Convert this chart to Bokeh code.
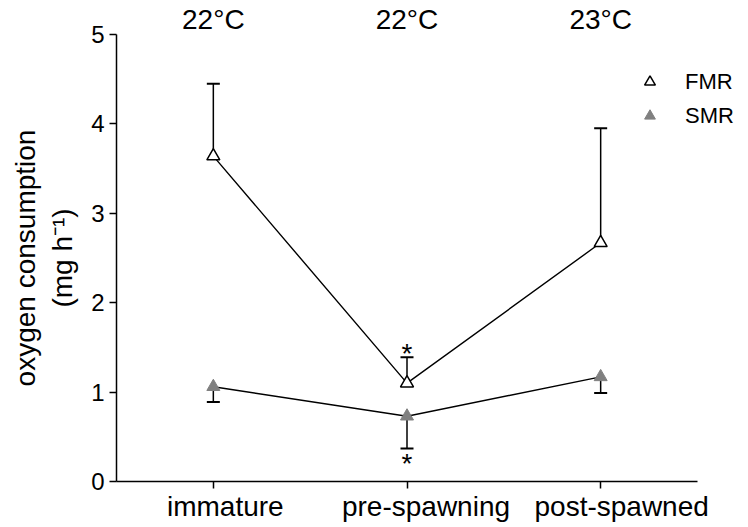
from bokeh.core.properties import value
from bokeh.embed import file_html
from bokeh.models import (ColumnDataSource, FixedTicker, Legend, LegendItem,
                          LinearAxis, Range1d, TeeHead, Whisker)
from bokeh.plotting import figure
from bokeh.resources import INLINE

# --- data -------------------------------------------------------------
stages = ["immature", "pre-spawning", "post-spawned"]
temperatures = ["22°C", "22°C", "23°C"]
fmr_mean = [3.64, 1.10, 2.67]      # field metabolic rate, mean
fmr_upper = [4.45, 1.39, 3.95]     # mean + error
smr_mean = [1.06, 0.73, 1.17]      # standard metabolic rate, mean
smr_lower = [0.89, 0.37, 0.99]     # mean - error
y_ticks = [0, 1, 2, 3, 4, 5]

# --- layout -------------------------------------------------------------
W, H = 748, 527
LEFT, TOP, BOTTOM = 116, 34, 46
AXIS_W = 581                        # drawn length of the category axis
X_AXIS = (-0.5, 2.5)
PX_PER_X = AXIS_W / (X_AXIS[1] - X_AXIS[0])
# the frame runs on to the right edge so the legend has room
X_RANGE = (X_AXIS[0], X_AXIS[1] + (W - LEFT - AXIS_W) / PX_PER_X)
Y_RANGE = (0, 5)
NAME_SHIFT_PX = [12, 19, 21]        # category names sit a little right of their ticks
FONT = "Liberation Sans"

xs = list(range(len(stages)))
src = ColumnDataSource(dict(x=xs, fmr=fmr_mean, fmr_hi=fmr_upper,
                            smr=smr_mean, smr_lo=smr_lower))

p = figure(width=W, height=H, output_backend="svg", toolbar_location=None,
           title=None,
           x_range=Range1d(*X_RANGE), y_range=Range1d(*Y_RANGE),
           min_border_left=LEFT, min_border_right=0,
           min_border_top=TOP, min_border_bottom=BOTTOM)
p.outline_line_color = None
p.grid.visible = False
p.background_fill_color = "white"
p.border_fill_color = "white"

# axes
for ax in (p.xaxis[0], p.yaxis[0]):
    ax.axis_line_width = 1.5
    ax.axis_line_color = "black"
    ax.major_tick_line_width = 1.5
    ax.major_tick_line_color = "black"
    ax.major_tick_in = 0
    ax.major_tick_out = 7
    ax.minor_tick_line_color = None
    ax.major_label_text_font = FONT
    ax.major_label_text_color = "black"

p.yaxis.ticker = FixedTicker(ticks=y_ticks)
p.yaxis.major_label_text_font_size = "24px"
p.yaxis.major_label_standoff = 5
p.yaxis.axis_label = "oxygen consumption\n(mg h⁻¹)"
p.yaxis.axis_label_text_font = FONT
p.yaxis.axis_label_text_font_size = "28px"
p.yaxis.axis_label_text_font_style = "normal"
p.yaxis.axis_label_text_color = "black"
p.yaxis.axis_label_standoff = 10

# category axis: line and ticks
p.xaxis.bounds = X_AXIS
p.xaxis.ticker = FixedTicker(ticks=xs)
p.xaxis.major_label_overrides = {i: "" for i in xs}
p.xaxis.major_label_text_font_size = "1px"
p.xaxis.major_label_standoff = 0

# category names, on a label-only axis beneath
name_ticks = [i + s / PX_PER_X for i, s in zip(xs, NAME_SHIFT_PX)]
name_axis = LinearAxis(ticker=FixedTicker(ticks=name_ticks),
                       major_label_overrides={t: s for t, s in zip(name_ticks, stages)},
                       axis_line_color=None, major_tick_line_color=None,
                       minor_tick_line_color=None, major_tick_out=0,
                       major_tick_in=0, major_label_standoff=2,
                       major_label_text_font=FONT,
                       major_label_text_font_size="28px",
                       major_label_text_color="black")
p.add_layout(name_axis, "below")

# water temperature of each stage, along the top
temp_axis = LinearAxis(ticker=FixedTicker(ticks=xs),
                       major_label_overrides={i: t for i, t in zip(xs, temperatures)},
                       axis_line_color=None, major_tick_line_color=None,
                       minor_tick_line_color=None, major_tick_out=0,
                       major_tick_in=0, major_label_standoff=0,
                       major_label_text_font=FONT,
                       major_label_text_font_size="28px",
                       major_label_text_color="black")
p.add_layout(temp_axis, "above")

# connecting lines
p.line("x", "fmr", source=src, line_color="black", line_width=1.4)
p.line("x", "smr", source=src, line_color="black", line_width=1.4)

# one-sided error bars
p.add_layout(Whisker(source=src, base="x", lower="fmr", upper="fmr_hi",
                     dimension="height", line_width=1.5, line_color="black",
                     upper_head=TeeHead(size=13, line_width=2, line_color="black"),
                     lower_head=None, level="underlay"))
p.add_layout(Whisker(source=src, base="x", lower="smr_lo", upper="smr",
                     dimension="height", line_width=1.5, line_color="black",
                     lower_head=TeeHead(size=13, line_width=2, line_color="black"),
                     upper_head=None, level="underlay"))

# markers
fmr_r = p.scatter("x", "fmr", source=src, marker="triangle", size=13,
                  fill_color="white", line_color="black", line_width=1.5)
smr_r = p.scatter("x", "smr", source=src, marker="triangle", size=13,
                  fill_color="#808080", line_color="#808080", line_width=1)

# significance marks at pre-spawning
p.text(x=[1], y=[fmr_upper[1]], text=["*"], y_offset=-4,
       text_align="center", text_baseline="alphabetic",
       text_font=value(FONT), text_font_size="28px", text_color="black")
p.text(x=[1], y=[smr_lower[1]], text=["*"], y_offset=15,
       text_align="center", text_baseline="alphabetic",
       text_font=value(FONT), text_font_size="28px", text_color="black")

# legend
legend = Legend(items=[LegendItem(label="FMR", renderers=[fmr_r]),
                       LegendItem(label="SMR", renderers=[smr_r])],
                location=(520, 352), glyph_width=27, glyph_height=27,
                label_height=27, label_standoff=22, spacing=7,
                padding=0, margin=0, border_line_color=None,
                background_fill_alpha=0,
                label_text_font=FONT, label_text_font_size="22px",
                label_text_color="black")
p.add_layout(legend)

open("out.html", "w").write(file_html(p, INLINE))
